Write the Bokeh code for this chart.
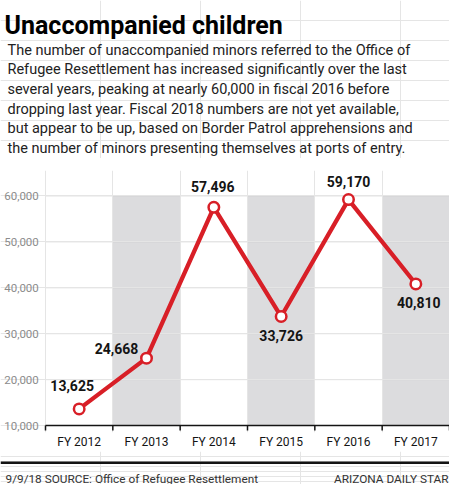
from bokeh.plotting import figure
from bokeh.layouts import column
from bokeh.models import (ColumnDataSource, Range1d, LinearAxis,
                          FixedTicker, Label, BoxAnnotation)
from bokeh.core.properties import value
from bokeh.embed import file_html
from bokeh.resources import INLINE

years = ["FY 2012", "FY 2013", "FY 2014", "FY 2015", "FY 2016", "FY 2017"]
minors = [13625, 24668, 57496, 33726, 59170, 40810]
shaded_years = ["FY 2013", "FY 2015", "FY 2017"]
y_ticks = [10000, 20000, 30000, 40000, 50000, 60000]

TITLE = "Unaccompanied children"
BLURB = [
    "The number of unaccompanied minors referred to the Office of",
    "Refugee Resettlement has increased significantly over the last",
    "several years, peaking at nearly 60,000 in fiscal 2016 before",
    "dropping last year. Fiscal 2018 numbers are not yet available,",
    "but appear to be up, based on Border Patrol apprehensions and",
    "the number of minors presenting themselves at ports of entry.",
]
FOOT_LEFT = "9/9/18  SOURCE: Office of Refugee Resettlement"
FOOT_RIGHT = "ARIZONA DAILY STAR"

RED = "#d81f27"
BAND = "#dcdcde"
GRID = "#c9c9c9"
INK = "#141414"
FONT = "Roboto"

# pixel nudges for the value labels, one per point
label_dx = [-7, -30, -1, 0, 0, 3]
label_dy = [-23, -10, -21, 19, -18, 19]

W = 449
HEAD_H, FOOT_H = 158, 33
TOP_PAD, FRAME_H, BOTTOM_PAD = 12, 264, 17
CHART_H = TOP_PAD + FRAME_H + BOTTOM_PAD
LEFT_PAD, RIGHT_PAD = 45, 0      # room for the value scale / right edge
Y_LO, Y_HI = 8490, 65500         # a little room below the baseline for ticks
TICK_PX = 5


def strip(height):
    # a bare figure whose data units are pixels, y growing downwards
    f = figure(width=W, height=height, x_range=Range1d(0, W),
               y_range=Range1d(height, 0), output_backend="svg",
               toolbar_location=None, tools="", title=None,
               x_axis_location=None, y_axis_location=None, min_border=0)
    f.outline_line_color = None
    return f


head = strip(HEAD_H)
head.add_layout(Label(x=4, y=24.7, text=TITLE, text_font=FONT,
                      text_font_style="bold", text_font_size="25px",
                      text_color="#000", text_baseline="alphabetic"))
for i, line in enumerate(BLURB):
    head.add_layout(Label(x=7, y=49.6 + 19.7 * i, text=line, text_font=FONT,
                          text_font_size="14.5px", text_color="#222",
                          text_baseline="alphabetic"))

# each year gets a unit slot; points sit in the middle of it
n = len(years)
slot = {y: i + 0.5 for i, y in enumerate(years)}
centres = [slot[y] for y in years]
edges = list(range(n + 1))
slot_px = (W - LEFT_PAD - RIGHT_PAD) / n
tick_units = TICK_PX * (Y_HI - Y_LO) / FRAME_H

p = figure(width=W, height=CHART_H,
           x_range=Range1d(-LEFT_PAD / slot_px, n + RIGHT_PAD / slot_px),
           y_range=Range1d(Y_LO, Y_HI), title=None,
           output_backend="svg", toolbar_location=None, tools="",
           x_axis_location=None, y_axis_location=None,
           min_border_left=0, min_border_right=0,
           min_border_top=TOP_PAD, min_border_bottom=BOTTOM_PAD)
p.outline_line_color = None

bands = p.vbar(x=[slot[y] for y in shaded_years], top=y_ticks[-1],
               bottom=y_ticks[0], width=1.0, fill_color=BAND, line_color=None)
bands.level = "image"

# horizontal rules across the slots only
rules = p.segment(x0=0, x1=n, y0=y_ticks[1:], y1=y_ticks[1:],
                  line_color=GRID, line_width=1)
rules.level = "underlay"

# baseline with short ticks on the slot edges
p.segment(x0=0, x1=n, y0=y_ticks[0], y1=y_ticks[0],
          line_color=INK, line_width=1.5)
p.segment(x0=edges, x1=edges, y0=y_ticks[0], y1=y_ticks[0] - tick_units,
          line_color=INK, line_width=1.5)

# value scale, right-aligned just left of the first slot
p.text(x=[0] * len(y_ticks), y=y_ticks, text=[f"{t:,}" for t in y_ticks],
       x_offset=-6.7, text_align="right", text_baseline="middle",
       text_font=value(FONT), text_font_size="11.5px", text_color="#8c8c8c")

year_axis = LinearAxis(ticker=FixedTicker(ticks=centres),
                       major_label_overrides={slot[y]: y for y in years},
                       axis_line_color=None, major_tick_line_color=None,
                       minor_tick_line_color=None,
                       major_tick_in=0, major_tick_out=0,
                       major_label_standoff=2,
                       major_label_text_font=FONT,
                       major_label_text_font_size="12px",
                       major_label_text_color=INK)
p.add_layout(year_axis, "below")

src = ColumnDataSource(dict(x=centres, minors=minors,
                            label=[f"{v:,}" for v in minors],
                            dx=label_dx, dy=label_dy))
p.line("x", "minors", source=src, line_color=RED, line_width=4.3,
       line_join="round")
p.scatter("x", "minors", source=src, size=10.5, fill_color="white",
          line_color=RED, line_width=2.5)
p.text("x", "minors", text="label", x_offset="dx", y_offset="dy", source=src,
       text_align="center", text_baseline="middle", text_font=value(FONT),
       text_font_style="bold", text_font_size="14px", text_color=INK)

foot = strip(FOOT_H)
foot.add_layout(BoxAnnotation(left=0, right=W, top=10, bottom=12.5,
                              fill_color=INK, fill_alpha=1, line_color=None))
foot.add_layout(Label(x=5, y=27.5, text=FOOT_LEFT, text_font=FONT,
                      text_font_size="11.8px", text_color="#333",
                      text_baseline="alphabetic"))
foot.add_layout(Label(x=W - 1, y=27.5, text=FOOT_RIGHT, text_font=FONT,
                      text_font_size="11.8px", text_color="#333",
                      text_align="right", text_baseline="alphabetic"))

page = column(head, p, foot, spacing=0)
open("out.html", "w").write(file_html(page, INLINE))
